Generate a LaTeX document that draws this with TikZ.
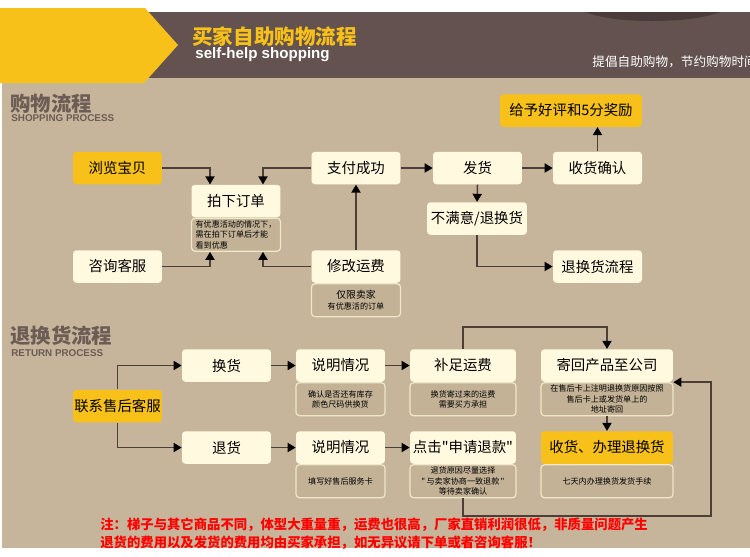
\documentclass[tikz,border=0pt]{standalone}
\usepackage{fontspec}
\setmainfont{Liberation Sans}
\newfontfamily\cjk{Noto Sans CJK SC}
\usetikzlibrary{arrows.meta}

\definecolor{bgbeige}{HTML}{C6B59A}
\definecolor{hdrbrown}{HTML}{63524F}
\definecolor{hdrdark}{HTML}{4A3C3A}
\definecolor{gold}{HTML}{F8C11A}
\definecolor{cream}{HTML}{FFFADF}
\definecolor{notefill}{HTML}{C3B296}
\definecolor{noteline}{HTML}{F0E7C8}
\definecolor{titlegray}{HTML}{6B5C55}
\definecolor{linebrown}{HTML}{4B3F37}
\definecolor{warnred}{HTML}{FF0000}

\begin{document}
\begin{tikzpicture}[
  x=0.02cm, y=-0.02cm,
  box/.style={fill=cream, rounded corners=2pt, inner sep=0pt,
    minimum width=1.78cm, minimum height=0.65cm,
    font=\cjk\fontsize{8.2}{9}\selectfont},
  hot/.style={box, fill=gold},
  note/.style={draw=noteline, fill=notefill, line width=0.7pt,
    rounded corners=2pt, inner sep=1pt, anchor=north, align=center,
    minimum width=1.78cm, minimum height=0.66cm,
    font=\cjk\fontsize{4.6}{5.9}\selectfont},
  arr/.style={draw=linebrown, line width=0.85pt,
    -{Triangle[width=5.2pt,length=4.6pt,color=black]}},
  label/.style={anchor=west, inner sep=0pt},
  sectitle/.style={label, text=titlegray, font=\cjk\bfseries\fontsize{11.6}{12}\selectfont},
  secsub/.style={label, text=titlegray, font=\bfseries\fontsize{5.6}{6}\selectfont}
]
  \useasboundingbox (0,0) rectangle (750,556);
  \fill[white] (0,0) rectangle (750,556);
  \fill[bgbeige] (2,78) rectangle (750,548);

  % 页眉
  \fill[hdrbrown] (140,12) rectangle (750,78);
  \fill[hdrdark] (585,12) .. controls (615,24) and (690,24) .. (720,12) -- cycle;
  \fill[gold] (0,8) -- (145,8) -- (178,45) -- (144,83) -- (0,83) -- cycle;
  \node[label, text=gold, font=\cjk\bfseries\fontsize{11.7}{12}\selectfont] (hdrcn) at (192,37) {买家自助购物流程};
  \node[label, text=white, font=\bfseries\fontsize{8.6}{9}\selectfont] (hdren) at (195,55) {self-help shopping};
  \begin{scope}
    \clip (0,0) rectangle (750,556);
    \node[label, text=white, font=\cjk\fontsize{7.2}{8}\selectfont] (slogan) at (592,62) {提倡自助购物，节约购物时间};
  \end{scope}

  % 购物流程
  \node[sectitle] (sec1) at (10,104) {购物流程};
  \node[secsub] (sec1en) at (11,118) {SHOPPING PROCESS};

  \node[hot] (browse) at (117.5,168) {浏览宝贝};
  \node[box] (consult) at (117.5,266.5) {咨询客服};
  \node[box] (order) at (236,201) {拍下订单};
  \node[note, align=left] (ordernote) at (order.south)
    {有优惠活动的情况下，\\需在拍下订单后才能\\看到优惠};
  \node[box] (pay) at (356,168) {支付成功};
  \node[box] (fee) at (356,266.5) {修改运费};
  \node[note] (feenote) at (fee.south) {\fontsize{5.6}{7}\selectfont 仅限卖家\\有优惠活的订单};
  \node[box] (ship) at (477.5,168) {发货};
  \node[box, minimum width=2cm] (unhappy) at (477,218.5) {不满意/退换货};
  \node[box] (confirm) at (597.5,168) {收货确认};
  \node[hot, minimum width=2.84cm] (praise) at (571,110.5) {给予好评和5分奖励};
  \node[box] (retflow) at (597.5,266.5) {退换货流程};

  \draw[arr] (browse.east) -| ([xshift=-0.52cm]order.north);
  \draw[arr] (pay.west) -| ([xshift=0.54cm]order.north);
  \draw[arr] (consult.east) -| ([xshift=-0.52cm]ordernote.south);
  \draw[arr] (fee.west) -| ([xshift=0.54cm]ordernote.south);
  \draw[arr] (fee.north) -- (pay.south);
  \draw[arr] (pay.east) -- (ship.west);
  \draw[arr] (ship.east) -- (confirm.west);
  \draw[arr] (ship.south) -- (unhappy.north);
  \draw[arr] (unhappy.south) |- (retflow.west);
  \draw[arr] (confirm.north) -- (confirm.north |- praise.south);

  % 退换货流程
  \node[sectitle] (sec2) at (10,336) {退换货流程};
  \node[secsub] (sec2en) at (11,353) {RETURN PROCESS};

  \node[hot] (contact) at (117.5,406) {联系售后客服};
  \node[box] (exch) at (226.5,365.5) {换货};
  \node[box] (refund) at (226.5,447.5) {退货};
  \node[box] (ex1) at (340.5,365.5) {说明情况};
  \node[note] (ex1note) at (ex1.south) {确认是否还有库存\\颜色尺码供换货};
  \node[box] (ex2) at (340.5,447.5) {说明情况};
  \node[note] (ex2note) at (ex2.south) {填写好售后服务卡};
  \node[box, minimum width=2.12cm] (topup) at (463,365.5) {补足运费};
  \node[note, minimum width=2.12cm] (topupnote) at (topup.south) {换货寄过来的运费\\需要买方承担};
  \node[box, minimum width=2.12cm] (apply) at (463,447.5) {点击"申请退款"};
  \node[note, minimum width=2.12cm] (applynote) at (apply.south)
    {退货原因尽量选择\\"\,与卖家协商一致退款\,"\\等待卖家确认};
  \node[box, minimum width=2.64cm] (sendback) at (607,365.5) {寄回产品至公司};
  \node[note, minimum width=2.64cm] (sendnote) at (sendback.south)
    {在售后卡上注明退换货原因按照\\售后卡上或发货单上的\\地址寄回};
  \node[hot, minimum width=2.64cm] (handle) at (607,447.5) {收货、办理退换货};
  \node[note, minimum width=2.64cm] (handlenote) at (handle.south) {七天内办理换货发货手续};

  \coordinate (loopR) at (711,516);

  \draw[arr] (contact.north) |- (exch.west);
  \draw[arr] (contact.south) |- (refund.west);
  \draw[arr] (exch.east) -- (ex1.west);
  \draw[arr] (refund.east) -- (ex2.west);
  \draw[arr] (ex1.east) -- (topup.west);
  \draw[arr] (ex2.east) -- (apply.west);
  \draw[arr] (topup.north) -- ++(0,-22) -| (sendback.north);
  \draw[arr] (sendnote.south) -- (handle.north);
  \draw[arr] (applynote.south) |- (loopR) |- (sendback.south east);

  % 注意事项
  \node[label, text=warnred, font=\cjk\bfseries\fontsize{7.6}{8}\selectfont] (warn1) at (100,525)
    {注：梯子与其它商品不同，体型大重量重，运费也很高，厂家直销利润很低，非质量问题产生};
  \node[label, text=warnred, font=\cjk\bfseries\fontsize{7.6}{8}\selectfont] (warn2) at (100,543)
    {退货的费用以及发货的费用均由买家承担，如无异议请下单或者咨询客服！};
\end{tikzpicture}
\end{document}
